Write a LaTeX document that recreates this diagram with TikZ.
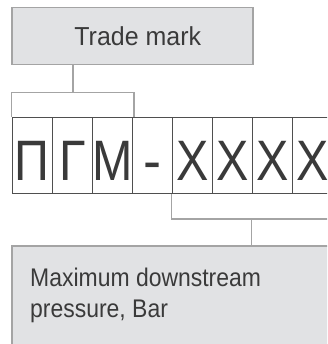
\documentclass[tikz,border=0pt]{standalone}
\usepackage{fontspec}
\setmainfont{Liberation Sans}
\usetikzlibrary{calc}
\definecolor{boxfill}{HTML}{E1E2E4}
\definecolor{boxline}{HTML}{A4A4A4}
\definecolor{ink}{HTML}{3A3A3A}
\definecolor{cellline}{HTML}{4F4F4F}
\begin{document}
\begin{tikzpicture}[x=1pt,y=-1pt,
  infobox/.style={draw=boxline, fill=boxfill, line width=1.5pt, inner sep=0pt},
  cell/.style={draw=cellline, line width=1.2pt, minimum width=40pt, minimum height=76pt, inner sep=0pt, anchor=north west},
  glyph/.style={anchor=base, inner sep=0pt, text=ink, font=\fontsize{57}{57}\selectfont},
  link/.style={draw=boxline, line width=1.5pt},
  label/.style={text=ink, inner sep=0pt}]
\useasboundingbox (0,0) rectangle (327,344);
\clip (0,0) rectangle (327,344);
% trade mark box
\node[infobox, minimum width=241pt, minimum height=57pt, anchor=north west,
      font=\fontsize{26}{30}\selectfont, text=ink] (tm) at (11,7)
      {\hspace*{11pt}\scalebox{0.96}[1]{Trade mark}};
% cells
\foreach \i in {1,...,8} {
  \node[cell] (c\i) at ({11.7+40*(\i-1)},117) {};
}
\node[glyph] (g1) at ($(c1.south)+(0,-14)$) {\scalebox{0.85}[1]{П}};
\node[glyph] (g2) at ($(c2.south)+(0,-14)$) {\scalebox{0.85}[1]{Г}};
\node[glyph] (g3) at ($(c3.south)+(0,-14)$) {\scalebox{0.85}[1]{М}};
\node[glyph] (g4) at ($(c4.south)+(0,-14)$) {\scalebox{0.95}[1]{-}};
\node[glyph] (g5) at ($(c5.south)+(0,-14)$) {\scalebox{0.85}[1]{X}};
\node[glyph] (g6) at ($(c6.south)+(0,-14)$) {\scalebox{0.85}[1]{X}};
\node[glyph] (g7) at ($(c7.south)+(0,-14)$) {\scalebox{0.85}[1]{X}};
\node[glyph] (g8) at ($(c8.south)+(0,-14)$) {\scalebox{0.85}[1]{X}};
% lower box
\node[infobox, minimum width=340pt, minimum height=130pt, anchor=north west] (mb) at (11,245) {};
\node[label, anchor=base west, font=\fontsize{25.5}{30.7}\selectfont] (mtext) at (30,286.7)
  {\scalebox{0.9}[1]{\begin{tabular}[t]{@{}l@{}}Maximum downstream\\pressure, Bar\end{tabular}}};
% top bracket
\coordinate (tbl) at ($(c1.north west)+(0,-24.5)$);
\coordinate (tbr) at ($(c3.north east)+(1.3,-24.5)$);
\coordinate (tbm) at ($(tbl)!0.5!(tbr)$);
\draw[link] (c1.north west) -- (tbl) -- (tbr) -- ($(c3.north east)+(1.3,0)$);
\draw[link] (tm.south -| tbm) -- (tbm);
% bottom bracket
\coordinate (bbl) at ($(c5.south west)+(0,25)$);
\coordinate (bbr) at ($(c8.south east)+(20,25)$);
\coordinate (bbm) at ($(c7.south west)+(0,25)$);
\draw[link] (c5.south west) -- (bbl) -- (bbr);
\draw[link] (bbm) -- (mb.north -| bbm);
\end{tikzpicture}
\end{document}
